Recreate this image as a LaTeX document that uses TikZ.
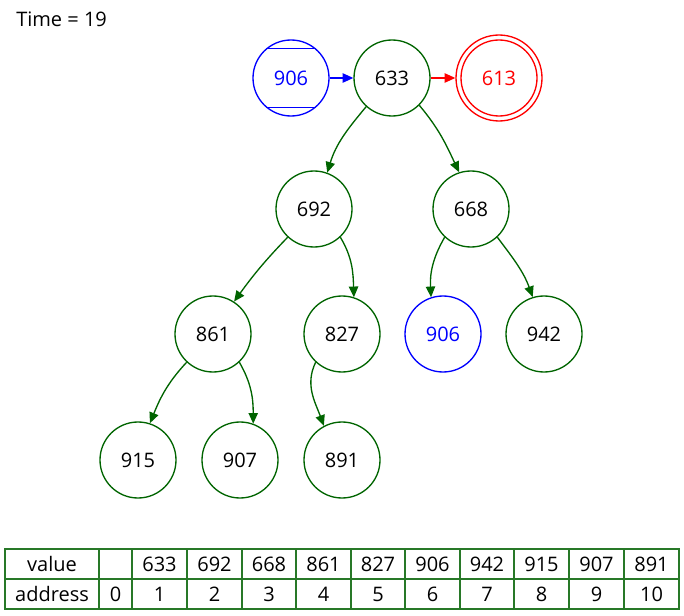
\documentclass[tikz,border=0pt]{standalone}
\usepackage{fontspec}
\setmainfont{Open Sans}
\usetikzlibrary{arrows.meta}
\definecolor{treegreen}{RGB}{0,100,0}
\definecolor{tablegreen}{RGB}{40,120,40}
\begin{document}
\begin{tikzpicture}[x=0.75pt,y=-0.75pt,
  every node/.style={font=\fontsize{15pt}{17pt}\selectfont},
  vnode/.style={circle,draw=treegreen,line width=1pt,minimum size=57pt,inner sep=0pt,text=black},
  bnode/.style={circle,draw=blue,line width=1pt,minimum size=57pt,inner sep=0pt,text=blue},
  rnode/.style={circle,draw=red,line width=1pt,minimum size=64.5pt,inner sep=0pt,text=red},
  edge/.style={draw=treegreen,line width=1pt,-{Triangle[length=8pt,width=7pt]}},
  cell/.style={rectangle,draw=tablegreen,line width=1pt,minimum height=22.5pt,inner sep=0pt,text=black}
  ]
\useasboundingbox (0,0) rectangle (684,616);
\node[anchor=west,inner sep=0pt] (time) at (16,19) {Time = 19};

\node[bnode] (n906a) at (291,78) {906};
\node[vnode] (n633) at (392,78) {633};
\node[rnode] (n613) at (499,78) {613};
\draw[red,line width=1pt] (n613.center) circle[radius=28.5pt];
\draw[blue,line width=1.2pt] (n906a.130) -- (n906a.50);
\draw[blue,line width=1.2pt] (n906a.-130) -- (n906a.-50);

\node[vnode] (n692) at (314,209) {692};
\node[vnode] (n668) at (471,209) {668};
\node[vnode] (n861) at (213,334) {861};
\node[vnode] (n827) at (342,334) {827};
\node[bnode] (n906b) at (443,334) {906};
\node[vnode] (n942) at (544,334) {942};
\node[vnode] (n915) at (138,460) {915};
\node[vnode] (n907) at (240,460) {907};
\node[vnode] (n891) at (342,460) {891};

\draw[blue,line width=1pt,-{Triangle[length=8pt,width=7pt]}] (n906a) -- (n633);
\draw[red,line width=1pt,-{Triangle[length=8pt,width=7pt]}] (n633) -- (n613);

\draw[edge] (n633.228) to[out=230,in=73] (n692.70);
\draw[edge] (n633.-45) to[out=310,in=115] (n668.108);
\draw[edge] (n692.227) to[out=226,in=54] (n861.57);
\draw[edge] (n692.-47) to[out=301,in=92] (n827.72);
\draw[edge] (n668.227) to[out=240,in=93] (n906b.108);
\draw[edge] (n668.-47) to[out=307,in=110] (n942.107);
\draw[edge] (n861.227) to[out=227,in=68] (n915.72);
\draw[edge] (n861.-47) to[out=300,in=90] (n907.70);
\draw[edge] (n827.227) to[out=244,in=110] (n891.118);

\foreach \l/\r/\v/\a [count=\i] in {5/99/value/address, 99/132/{}/0, 132/187/633/1, 187/242/692/2, 242/296/668/3, 296/351/861/4, 351/405/827/5, 405/460/906/6, 460/514/942/7, 514/569/915/8, 569/624/907/9, 624/679/891/10}{
  \node[cell,minimum width={(\r-\l)*0.75pt}] (v\i) at ({(\l+\r)/2},564) {\v};
  \node[cell,minimum width={(\r-\l)*0.75pt}] (a\i) at ({(\l+\r)/2},594) {\a};
}
\end{tikzpicture}
\end{document}
